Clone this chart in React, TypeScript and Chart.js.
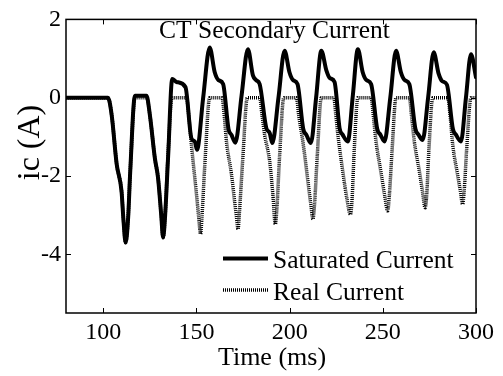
import React, { useEffect, useRef } from "react";
import { Chart, registerables } from "chart.js";

Chart.register(...registerables);

// ---- data (time in ms, current in A) ----
const satTime = [80, 102.5, 104.5, 107.2, 109.8, 110.8, 112, 113.3, 114.5, 117, 123.2, 125, 127.7, 129.4, 131.1, 132.1, 133.2, 134.8, 137, 139.3, 144.1, 147.3, 149.1, 150.3, 153.6, 157.1, 159.8, 161.8, 164.3, 167.2, 168.8, 170.9, 174.2, 177.6, 180.3, 182, 183.9, 187.5, 189.3, 190.7, 194, 197.3, 199.9, 201.8, 204.2, 207.3, 209, 211.4, 214.2, 217, 219.7, 221.6, 224.1, 226.8, 228.5, 231.2, 233.9, 236.6, 239.2, 241.2, 243.7, 247, 248.8, 250.9, 254, 257.1, 259.7, 261.7, 264.2, 267.5, 269.2, 271.4, 274.3, 277.3, 279.9, 281.9, 284.4, 287.6, 289.3, 291.9, 294.6, 297.3, 300];
const satCurrent = [0, 0, -0.44, -1.7, -2.39, -3.1, -3.7, -3.1, -1.85, 0.05, 0.05, -0.44, -1.55, -2.05, -3.0, -3.57, -3.0, -1.5, 0.48, 0.4, 0.27, -1.04, -1.12, -1.33, 0.0, 1.28, 0.65, 0.45, 0.35, -0.8, -0.95, -1.15, 0.05, 1.24, 0.57, 0.45, 0.35, -0.78, -0.9, -1.16, 0.0, 1.2, 0.65, 0.45, 0.35, -0.8, -0.95, -1.16, 0.0, 1.2, 0.7, 0.5, 0.4, -0.78, -0.95, -1.12, 0.05, 1.24, 0.65, 0.45, 0.35, -0.8, -0.95, -1.12, 0.0, 1.2, 0.65, 0.45, 0.35, -0.8, -0.95, -1.08, 0.0, 1.16, 0.62, 0.42, 0.33, -0.8, -0.95, -1.12, 0.0, 1.11, 0.52];

const realTime = [80, 102.5, 104.5, 107.2, 109.8, 110.8, 112, 113.3, 114.5, 117, 123.2, 125, 127.7, 129.4, 131.1, 132.1, 133.2, 134.6, 136.9, 144.6, 146, 147.3, 150, 151.2, 152.2, 153, 154.5, 157.1, 163.7, 165, 166.1, 168.8, 170.6, 171.5, 172.3, 173.1, 174.8, 177.3, 183.9, 185.2, 186.6, 189.3, 191, 192.3, 193.2, 194.6, 196.9, 203.6, 205, 207.1, 209.8, 211.3, 212.5, 213.4, 214.8, 217, 223.7, 224.8, 225.9, 228.5, 230.8, 232.6, 233.5, 234.6, 236.6, 243.7, 245, 246.3, 249, 251, 252.6, 253.5, 254.9, 257.1, 264.2, 265.5, 266.9, 269.6, 271.3, 272.7, 273.6, 274.7, 276.8, 284.8, 286.2, 287.5, 290.1, 291.5, 292.8, 293.7, 295, 297.3, 300];
const realCurrent = [0, 0, -0.44, -1.7, -2.39, -3.1, -3.7, -3.1, -1.85, 0, 0, -0.44, -1.55, -2.05, -3.0, -3.57, -3.0, -1.6, 0, 0, -0.5, -1.2, -2.46, -3.05, -3.48, -3.0, -1.7, 0, 0, -0.5, -1.12, -1.96, -2.7, -3.05, -3.36, -2.9, -1.6, 0, 0, -0.45, -0.95, -1.63, -2.47, -3.23, -2.8, -1.5, 0, 0, -0.5, -1.12, -2.13, -2.7, -3.1, -2.7, -1.5, 0, 0, -0.45, -0.95, -1.88, -2.6, -2.98, -2.6, -1.4, 0, 0, -0.5, -1.1, -1.9, -2.5, -2.89, -2.5, -1.4, 0, 0, -0.5, -1.12, -1.88, -2.4, -2.81, -2.45, -1.35, 0, 0, -0.5, -1.2, -1.96, -2.35, -2.72, -2.35, -1.3, 0, 0];

const xTickValues = [100, 150, 200, 250, 300];
const yTickValues = [-4, -2, 0, 2];
const titleText = "CT Secondary Current";
const xLabel = "Time (ms)";
const yLabel = "ic (A)";
const seriesNames = ["Saturated Current", "Real Current"];

const FONT = '"Liberation Serif", "Times New Roman", serif';

const decorPlugin = {
  id: "decor",
  afterDraw(chart: any) {
    const { ctx, chartArea: a, scales } = chart;
    const xs = scales.x;
    const ys = scales.y;
    ctx.save();
    ctx.strokeStyle = "#000";
    ctx.lineWidth = 1.5;
    ctx.strokeRect(a.left, a.top, a.right - a.left, a.bottom - a.top);
    ctx.lineWidth = 1;
    const tl = 5;
    ctx.beginPath();
    xTickValues.forEach((v) => {
      const px = Math.round(xs.getPixelForValue(v)) + 0.5;
      ctx.moveTo(px, a.bottom);
      ctx.lineTo(px, a.bottom - tl);
      ctx.moveTo(px, a.top);
      ctx.lineTo(px, a.top + tl);
    });
    yTickValues.forEach((v) => {
      const py = Math.round(ys.getPixelForValue(v)) + 0.5;
      ctx.moveTo(a.left, py);
      ctx.lineTo(a.left + tl, py);
      ctx.moveTo(a.right, py);
      ctx.lineTo(a.right - tl, py);
    });
    ctx.stroke();

    ctx.fillStyle = "#000";
    ctx.font = `25.5px ${FONT}`;
    ctx.textAlign = "center";
    ctx.textBaseline = "alphabetic";
    ctx.fillText(titleText, 274.5, 38);

    ctx.font = `26px ${FONT}`;
    ctx.fillText(xLabel, 272, 365);

    ctx.save();
    ctx.translate(31, 142.5);
    ctx.rotate(-Math.PI / 2);
    ctx.textBaseline = "middle";
    ctx.font = `32px ${FONT}`;
    ctx.fillText(yLabel, 0, 0);
    ctx.restore();

    ctx.font = `25.5px ${FONT}`;
    ctx.textAlign = "left";
    ctx.textBaseline = "alphabetic";
    const rows = [
      { y: 258.5, base: 267.5, color: "#000", width: 4, dash: [] as number[] },
      { y: 290, base: 299.5, color: "#000", width: 3.5, dash: [1, 1] },
    ];
    rows.forEach((r, i) => {
      ctx.save();
      ctx.strokeStyle = r.color;
      ctx.lineWidth = r.width;
      ctx.setLineDash(r.dash);
      ctx.beginPath();
      ctx.moveTo(223, r.y);
      ctx.lineTo(268, r.y);
      ctx.stroke();
      ctx.restore();
      ctx.fillText(seriesNames[i], 273, r.base);
    });
    ctx.restore();
  },
};

export default function App() {
  const ref = useRef<HTMLCanvasElement | null>(null);
  useEffect(() => {
    document.body.style.margin = "0";
    const canvas = ref.current;
    if (!canvas) return;
    const chart = new Chart(canvas, {
      type: "line",
      data: {
        datasets: [
          {
            label: seriesNames[0],
            data: satTime.map((t, i) => ({ x: t, y: satCurrent[i] })),
            borderColor: "#000",
            borderWidth: 4,
            pointRadius: 0,
            cubicInterpolationMode: "monotone",
            fill: false,
            borderJoinStyle: "round",
            borderCapStyle: "round",
          },
          {
            label: seriesNames[1],
            data: realTime.map((t, i) => ({ x: t, y: realCurrent[i] })),
            borderColor: "#000",
            borderWidth: 3.5,
            borderDash: [1, 1],
            pointRadius: 0,
            cubicInterpolationMode: "monotone",
            fill: false,
          },
        ],
      },
      options: {
        animation: false,
        responsive: false,
        devicePixelRatio: 1,
        events: [],
        layout: { padding: { left: 0, top: 16, right: 27, bottom: 0 } },
        plugins: {
          legend: { display: false },
          tooltip: { enabled: false },
          title: { display: false },
        },
        scales: {
          x: {
            type: "linear",
            min: 80,
            max: 300,
            grid: { display: false, drawTicks: false },
            border: { display: false },
            afterBuildTicks: (s: any) => {
              s.ticks = xTickValues.map((v) => ({ value: v }));
            },
            afterFit: (s: any) => {
              s.height = 63;
            },
            ticks: {
              autoSkip: false,
              maxRotation: 0,
              padding: 5,
              color: "#000",
              font: { family: FONT, size: 24 },
              callback: (v: any) => String(v),
            },
          },
          y: {
            type: "linear",
            min: -5.5,
            max: 2,
            grid: { display: false, drawTicks: false },
            border: { display: false },
            afterBuildTicks: (s: any) => {
              s.ticks = yTickValues.map((v) => ({ value: v }));
            },
            afterFit: (s: any) => {
              s.width = 66;
            },
            ticks: {
              autoSkip: false,
              padding: 5,
              color: "#000",
              font: { family: FONT, size: 24 },
              callback: (v: any) => String(v),
            },
          },
        },
      },
      plugins: [decorPlugin],
    });
    return () => chart.destroy();
  }, []);
  return (
    <div style={{ position: "fixed", left: 0, top: 0, width: 503, height: 376, background: "#fff" }}>
      <canvas ref={ref} width={503} height={376} style={{ width: 503, height: 376 }} />
    </div>
  );
}
